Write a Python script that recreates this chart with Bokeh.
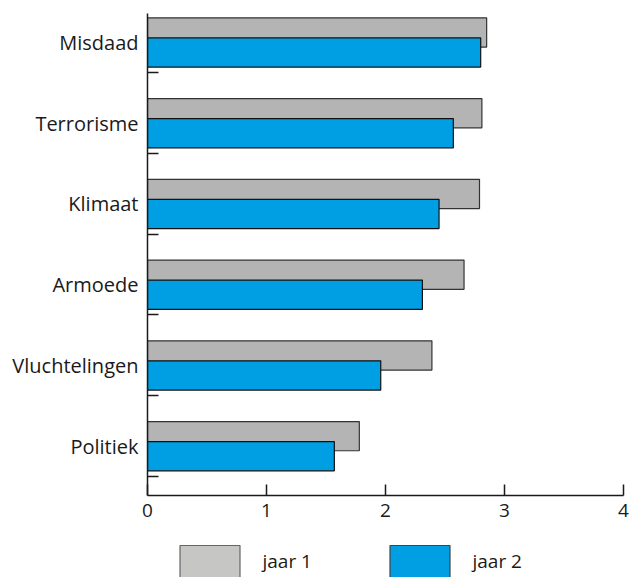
from bokeh.plotting import figure
from bokeh.models import Range1d, FixedTicker, Legend, LegendItem, ColumnDataSource
from bokeh.layouts import column
from bokeh.embed import file_html
from bokeh.resources import INLINE

categories = ["Misdaad", "Terrorisme", "Klimaat", "Armoede", "Vluchtelingen", "Politiek"]
jaar1 = [2.85, 2.81, 2.79, 2.66, 2.39, 1.78]
jaar2 = [2.80, 2.57, 2.45, 2.31, 1.96, 1.57]
x_ticks = [0, 1, 2, 3, 4]
series_labels = ["jaar 1", "jaar 2"]

n = len(categories)
centers = [n - 1 - i for i in range(n)]
offset = 0.124
bar_h = 0.362
bound_off = 0.375

src = ColumnDataSource(dict(
    y1=[c + offset for c in centers],
    y2=[c - offset for c in centers],
    v1=jaar1, v2=jaar2,
))

FONT = "Open Sans"
INK = "#1a1a1a"
GRAY = "#b4b4b4"
BLUE = "#009fe3"

p = figure(width=632, height=540, output_backend="svg", toolbar_location=None,
           x_range=Range1d(0, 4), y_range=Range1d(-0.611, n - 1 + 0.359),
           min_border_left=147, min_border_right=9, min_border_top=13, min_border_bottom=45)
p.outline_line_color = None
p.xgrid.visible = False
p.ygrid.visible = False
p.background_fill_color = None
p.border_fill_color = "white"

p.hbar(y="y1", right="v1", left=0, height=bar_h, source=src,
       fill_color=GRAY, line_color="#333333", line_width=1.2)
p.hbar(y="y2", right="v2", left=0, height=bar_h, source=src,
       fill_color=BLUE, line_color="#111111", line_width=1.2)

# x axis
xa = p.xaxis[0]
xa.ticker = FixedTicker(ticks=x_ticks)
xa.major_tick_in = 11
xa.major_tick_out = 0
xa.minor_tick_in = 0
xa.minor_tick_out = 0
xa.axis_line_color = INK
xa.axis_line_width = 1.5
xa.major_tick_line_color = INK
xa.major_tick_line_width = 1.5
xa.major_label_text_font = FONT
xa.major_label_text_font_size = "19px"
xa.major_label_text_color = INK
xa.major_label_standoff = 8

# y axis
ya = p.yaxis[0]
ya.ticker = FixedTicker(ticks=centers, minor_ticks=[c - bound_off for c in centers])
ya.major_label_overrides = {c: categories[i] for i, c in enumerate(centers)}
ya.major_tick_in = 0
ya.major_tick_out = 0
ya.minor_tick_in = 11
ya.minor_tick_out = 0
ya.minor_tick_line_color = INK
ya.minor_tick_line_width = 1.5
ya.axis_line_color = INK
ya.axis_line_width = 1.5
ya.major_label_text_font = FONT
ya.major_label_text_font_size = "20px"
ya.major_label_text_color = INK
ya.major_label_standoff = 9

# legend strip (proxy glyphs sit outside the strip's visible range)
p2 = figure(width=632, height=37, output_backend="svg", toolbar_location=None,
            x_range=Range1d(0, 1), y_range=Range1d(0, 1), min_border=0)
p2.axis.visible = False
p2.grid.visible = False
p2.outline_line_color = None
proxy = ColumnDataSource(dict(y=[-5], right=[0.5]))
l1 = p2.hbar(y="y", right="right", left=0, height=0.1, source=proxy,
             fill_color="#c6c6c5", line_color="#666666", line_width=1.2)
l2 = p2.hbar(y="y", right="right", left=0, height=0.1, source=proxy,
             fill_color=BLUE, line_color="#444444", line_width=1.2)

legend = Legend(items=[LegendItem(label=series_labels[0], renderers=[l1]),
                       LegendItem(label=series_labels[1], renderers=[l2])],
                orientation="horizontal", location=(24.5, -4),
                glyph_width=75, glyph_height=40, label_height=40,
                label_standoff=16, label_width=100, spacing=19,
                padding=0, margin=0, border_line_color=None,
                background_fill_alpha=0,
                label_text_font=FONT, label_text_font_size="19px", label_text_color=INK)
p2.add_layout(legend)

layout = column(p, p2, spacing=0)
open("out.html", "w").write(file_html(layout, INLINE))
